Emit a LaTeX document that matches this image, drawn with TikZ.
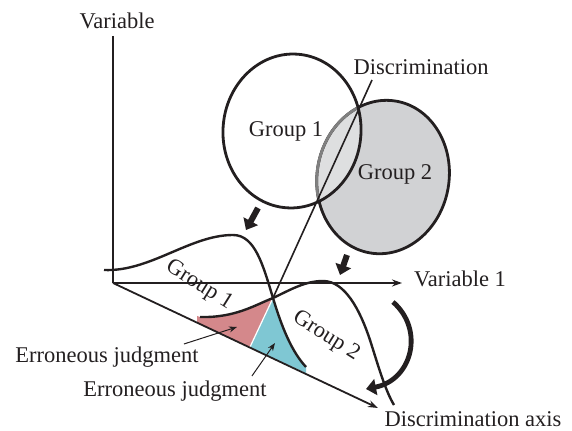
\documentclass[tikz,border=0pt]{standalone}
\usepackage{fontspec}
\setmainfont{Liberation Serif}
\usepackage{xcolor}
\usetikzlibrary{positioning, arrows.meta, calc}
\definecolor{groupgray}{HTML}{D1D2D4}
\definecolor{lensgray}{HTML}{DEDFE0}
\definecolor{errpink}{HTML}{D4888B}
\definecolor{errcyan}{HTML}{7FC7D3}
\definecolor{inkblack}{HTML}{231F20}

\begin{document}
\begin{tikzpicture}[x=0.5pt, y=-0.5pt,
    lbl/.style={font=\fontsize{11.25}{13}\selectfont, text=inkblack, inner sep=0pt},
    axisline/.style={draw=inkblack, line width=0.9pt},
    blobline/.style={draw=inkblack, line width=1.4pt},
    densline/.style={draw=inkblack, line width=1.2pt},
    fatarrow/.style={draw=inkblack, line width=3pt, -{Triangle[length=5pt, width=8pt]}},
    pointer/.style={draw=inkblack, line width=0.5pt, -{Stealth[length=4pt, width=3pt]}}]

  \useasboundingbox (0,0) rectangle (572,431);

  \coordinate (origin) at (113,283);
  \coordinate (ytop) at (113,36);
  \coordinate (xend) at (402,283);
  \coordinate (dend) at (378,408);
  \coordinate (g1c) at (292,131);
  \coordinate (g2c) at (383,177);
  \coordinate (cross) at (273,298);
  \coordinate (sepend) at (250,347);
  \coordinate (disctop) at (372,80);

  % the two groups in the variable plane
  \fill[groupgray, rotate around={-10:(g2c)}] (g2c) ellipse [x radius=66, y radius=77];
  \begin{scope}
    \clip[rotate around={-4:(g1c)}] (g1c) ellipse [x radius=69, y radius=77];
    \fill[lensgray, rotate around={-10:(g2c)}] (g2c) ellipse [x radius=66, y radius=77];
  \end{scope}
  \draw[blobline, rotate around={-10:(g2c)}] (g2c) ellipse [x radius=66, y radius=77];
  \begin{scope}
    \clip[rotate around={-4:(g1c)}] (g1c) ellipse [x radius=69, y radius=77];
    \draw[blobline, draw=gray, rotate around={-10:(g2c)}] (g2c) ellipse [x radius=66, y radius=77];
  \end{scope}
  \draw[blobline, rotate around={-4:(g1c)}] (g1c) ellipse [x radius=69, y radius=77];

  \node[lbl, anchor=base] (g1lbl) at (286,137) {Group 1};
  \node[lbl, anchor=base] (g2lbl) at (395,180) {Group 2};

  % error areas
  \fill[errpink] (197,316) -- (200,317) .. controls (235,318) and (255,305) .. (cross)
    -- (sepend) -- (197,323) -- cycle;
  \fill[errcyan] (cross) .. controls (282,328) and (292,352) .. (306,367)
    -- (306,373) -- (sepend) -- cycle;
  \draw[white, line width=0.6pt] (cross) -- (sepend);

  % axes
  \draw[axisline] (ytop) -- (origin);
  \draw[axisline, -{Stealth[length=5pt, width=3.5pt]}] (origin) -- (xend);
  \draw[axisline, -{Stealth[length=5pt, width=3.5pt]}] (origin) -- (dend);

  \node[lbl, anchor=base] (yname) at (117,29) {Variable};
  \node[lbl, anchor=base] (xname) at (460,287) {Variable 1};
  \node[lbl, anchor=base] (dname) at (473,427) {Discrimination axis};

  % projected distributions
  \draw[densline] (104,270) .. controls (150,272) and (190,235) .. (233,235)
    .. controls (255,235) and (263,265) .. (cross)
    .. controls (282,328) and (292,352) .. (306,367);
  \draw[densline] (200,317) .. controls (235,318) and (255,305) .. (cross)
    .. controls (290,290) and (305,281) .. (323,281)
    .. controls (345,281) and (360,310) .. (370,340)
    .. controls (378,365) and (385,390) .. (394,405);

  \node[lbl, rotate=-32] (c1lbl) at (199,285) {Group 1};
  \node[lbl, rotate=-32] (c2lbl) at (326,336) {Group 2};

  % discriminant line
  \draw[inkblack, line width=0.8pt] (disctop) -- (cross);
  \node[lbl, anchor=base] (disclbl) at (421,75) {Discrimination};

  % projection arrows
  \draw[fatarrow] (258,208) -- (246,230);
  \draw[fatarrow] (347,255) -- (340,275);
  \draw[fatarrow, line width=2.4pt] (393,302) .. controls (425,330) and (412,380) .. (366,389);

  % erroneous judgment labels
  \node[lbl, anchor=base] (err1) at (107,363) {Erroneous judgment};
  \node[lbl, anchor=base] (err2) at (175,397) {Erroneous judgment};
  \coordinate (err1tip) at (237,327);
  \coordinate (err2tip) at (275,343);
  \draw[pointer] ([xshift=-7.5pt, yshift=1.5pt]err1.north east) -- (err1tip);
  \draw[pointer] ([xshift=-7.5pt, yshift=2.5pt]err2.north east) -- (err2tip);
\end{tikzpicture}
\end{document}
